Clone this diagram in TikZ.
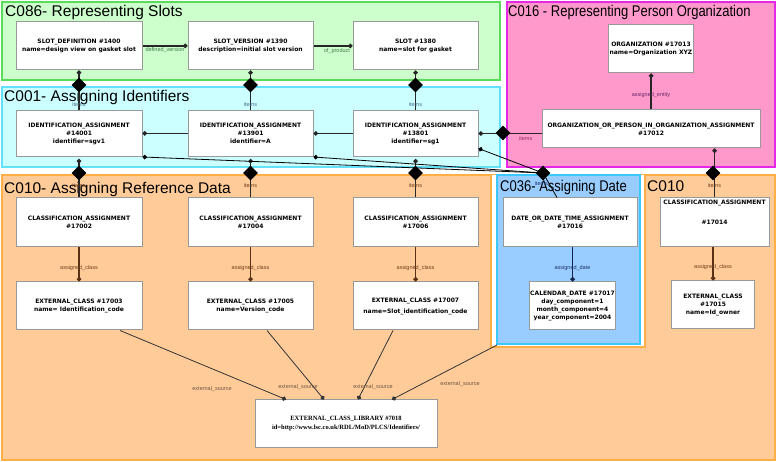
\documentclass[tikz,border=0pt]{standalone}
\usepackage{fontspec}
\setmainfont{Liberation Sans}
\newfontfamily\boxfont{DejaVu Sans}
\newfontfamily\libfont{Liberation Serif}
\newfontfamily\narrowfont[FakeStretch=0.84]{Liberation Sans}
\usetikzlibrary{arrows.meta,shapes.geometric}
\definecolor{slotfill}{RGB}{204,255,204}
\definecolor{slotline}{RGB}{90,220,90}
\definecolor{idfill}{RGB}{204,255,255}
\definecolor{idline}{RGB}{100,225,250}
\definecolor{orgfill}{RGB}{255,153,204}
\definecolor{orgline}{RGB}{230,40,230}
\definecolor{refill}{RGB}{255,204,153}
\definecolor{refline}{RGB}{255,175,70}
\definecolor{datefill}{RGB}{153,204,255}
\definecolor{dateline}{RGB}{60,200,250}
\definecolor{lblgreen}{RGB}{60,120,60}
\definecolor{lblblue}{RGB}{70,105,140}
\definecolor{lblbrown}{RGB}{110,60,25}
\definecolor{lblpurple}{RGB}{100,40,100}
\definecolor{lblred}{RGB}{150,40,90}
\definecolor{lblnavy}{RGB}{30,50,110}
\definecolor{lblsource}{RGB}{110,85,65}
\tikzset{
  area/.style={line width=1.5pt},
  title/.style={anchor=base west, inner sep=0pt, font=\fontsize{15.5}{16}\selectfont},
  entity/.style={draw=black!40, line width=1pt, fill=white, inner sep=1pt, align=center,
    font=\boxfont\bfseries\fontsize{6}{8}\selectfont,
    path picture={\fill ([shift={(-1.5pt,1.5pt)}]path picture bounding box.south east)
      -- ++(-5pt,0pt) -- ++(5pt,5pt) -- cycle;}},
  dmd/.style={diamond, fill=black, minimum width=15pt, minimum height=15pt, inner sep=0pt},
  conn/.style={line width=1.2pt, draw=black!85},
  thin/.style={line width=0.8pt, draw=black},
  enddot/.style={-{Circle[length=4.5pt]}},
  startdot/.style={{Circle[length=4.5pt]}-},
  lbl/.style={inner sep=1pt, font=\fontsize{5.5}{6}\selectfont}
}
\begin{document}
\begin{tikzpicture}[x=1pt,y=-1pt]
  \useasboundingbox (0,0) rectangle (777,462);
  \draw[area, draw=slotline, fill=slotfill] (2,2) rectangle (500,80);
  \draw[area, draw=idline, fill=idfill] (2,87) rectangle (500,167);
  \draw[area, draw=orgline, fill=orgfill] (507,2) rectangle (775,167);
  \draw[area, draw=refline, fill=refill] (2,175) rectangle (775,460);
  \fill[white] (491,175) rectangle (645,347);
  \draw[area, draw=refline] (491,175) -- (491,347) -- (645,347) -- (645,175);
  \draw[area, draw=dateline, fill=datefill] (497,175) rectangle (640,344);

  \node[title] (t086) at (5,17) {C086- Representing Slots};
  \node[title] (t001) at (4,102) {C001- Assigning Identifiers};
  \node[title] (t010) at (4,194) {C010- Assigning Reference Data};
  \node[title, font=\narrowfont\fontsize{15.5}{16}\selectfont] (t016) at (508,17) {C016 - Representing Person Organization};
  \node[title, font=\narrowfont\fontsize{15.5}{16}\selectfont] (t036) at (500,192) {C036- Assigning Date};
  \node[title] (t010b) at (647,192) {C010};

  \node[entity, minimum width=126pt, minimum height=48pt] (sdef) at (79,46) {SLOT\_DEFINITION \#1400\\name=design view on gasket slot};
  \node[entity, minimum width=125pt, minimum height=48pt] (sver) at (250.5,46) {SLOT\_VERSION \#1390\\description=initial slot version};
  \node[entity, minimum width=125pt, minimum height=48pt] (slot) at (415.5,46) {SLOT \#1380\\name=slot for gasket};
  \node[entity, minimum width=82pt, minimum height=48pt] (org) at (651,49) {ORGANIZATION \#17013\\name=Organization XYZ};
  \node[entity, minimum width=218pt, minimum height=38pt] (oop) at (651,129) {ORGANIZATION\_OR\_PERSON\_IN\_ORGANIZATION\_ASSIGNMENT\\\#17012};
  \node[entity, minimum width=126pt, minimum height=46pt] (id1) at (79,133.5) {IDENTIFICATION\_ASSIGNMENT\\\#14001\\identifier=sgv1};
  \node[entity, minimum width=125pt, minimum height=46pt] (id2) at (250.5,133.5) {IDENTIFICATION\_ASSIGNMENT\\\#13901\\identifier=A};
  \node[entity, minimum width=125pt, minimum height=46pt] (id3) at (415.5,133.5) {IDENTIFICATION\_ASSIGNMENT\\\#13801\\identifier=sg1};
  \node[entity, minimum width=126pt, minimum height=49pt] (ca1) at (79,222.5) {CLASSIFICATION\_ASSIGNMENT\\\#17002};
  \node[entity, minimum width=125pt, minimum height=49pt] (ca2) at (250.5,222.5) {CLASSIFICATION\_ASSIGNMENT\\\#17004};
  \node[entity, minimum width=125pt, minimum height=49pt] (ca3) at (415.5,222.5) {CLASSIFICATION\_ASSIGNMENT\\\#17006};
  \node[entity, minimum width=109pt, minimum height=49pt,
    label={[anchor=north, inner sep=2pt, font=\boxfont\bfseries\fontsize{6}{8}\selectfont]north:CLASSIFICATION\_ASSIGNMENT}] (ca4) at (714.5,222.5) {\#17014};
  \node[entity, minimum width=126pt, minimum height=48pt] (ec1) at (79,306) {EXTERNAL\_CLASS \#17003\\name= Identification\_code};
  \node[entity, minimum width=125pt, minimum height=48pt] (ec2) at (250.5,306) {EXTERNAL\_CLASS \#17005\\name=Version\_code};
  \node[entity, minimum width=125pt, minimum height=48pt] (ec3) at (415.5,306) {EXTERNAL\_CLASS \#17007\\[3pt]name=Slot\_identification\_code};
  \node[entity, minimum width=134pt, minimum height=49pt] (dta) at (570,222.5) {DATE\_OR\_DATE\_TIME\_ASSIGNMENT\\\#17016};
  \node[entity, minimum width=83pt, minimum height=48pt] (cal) at (572.5,306) {CALENDAR\_DATE \#17017\\day\_component=1\\month\_component=4\\year\_component=2004};
  \node[entity, minimum width=83pt, minimum height=48pt] (ec4) at (713,305) {EXTERNAL\_CLASS\\\#17015\\name=Id\_owner};
  \node[entity, minimum width=182pt, minimum height=47pt, font=\libfont\bfseries\fontsize{6.5}{9}\selectfont] (lib) at (346,423.5) {EXTERNAL\_CLASS\_LIBRARY \#7018\\id=http://www.lsc.co.uk/RDL/MoD/PLCS/Identifiers/};
  \coordinate (c036) at (497,345);

  \draw[conn, enddot] (sdef) -- (sver) node[lbl, text=lblgreen, midway, below=0pt] {defined\_version};
  \draw[conn, enddot] (sver) -- (slot) node[lbl, text=lblgreen, pos=0.6, below=1pt] {of\_product};
  \draw[conn, startdot] (sdef.south) -- (id1.north) node[lbl, text=lblblue, pos=0.85] {items};
  \draw[conn, startdot] (sver.south) -- (id2.north) node[lbl, text=lblblue, pos=0.85] {items};
  \draw[conn, startdot] (slot.south) -- (id3.north) node[lbl, text=lblblue, pos=0.85] {items};
  \draw[conn, startdot] (id1) -- (id2);
  \draw[conn, startdot] (id2) -- (id3);
  \draw[conn, startdot] (id3.east) -- (id3.east -| oop.west) node[lbl, text=lblred, pos=0.75, below=1pt] {items};
  \draw[conn, enddot] (oop) -- (org) node[lbl, text=lblpurple, pos=0.4] {assigned\_entity};
  \draw[conn, startdot] (ca4.north |- oop.south) -- (ca4.north) node[lbl, text=lblbrown, pos=0.75] {items};
  \draw[conn, startdot] ([yshift=-2pt]id1.south) -- (ca1.north) node[lbl, text=lblbrown, pos=0.7] {items};
  \draw[conn, startdot] ([yshift=-2pt]id2.south) -- (ca2.north) node[lbl, text=lblbrown, pos=0.7] {items};
  \draw[conn, startdot] ([yshift=-2pt]id3.south) -- (ca3.north) node[lbl, text=lblbrown, pos=0.7] {items};
  \node[dmd] (d1) at (79,85) {};
  \node[dmd] (d2) at (250.5,85) {};
  \node[dmd] (d3) at (415.5,85) {};
  \node[dmd] (d4) at (503,133) {};
  \node[dmd] (d5) at (79,173) {};
  \node[dmd] (d6) at (250.5,173) {};
  \node[dmd] (d7) at (415.5,173) {};
  \node[dmd] (d8) at (713,173) {};
  \node[dmd] (dd) at (543,173) {};
  \draw[thin, startdot] (id1.south east) -- (dd.center);
  \draw[thin, startdot] (id2.south east) -- (dd.center);
  \draw[thin, startdot] ([yshift=-15pt]id3.east) -- (dd.center);
  \draw[thin] (dd.center) -- ([xshift=-13pt]dta.north) node[lbl, text=lblnavy, pos=0.45, left=0pt] {items};

  \draw[conn, draw=lblbrown!80!black, enddot] (ca1) -- (ec1) node[lbl, text=lblbrown, pos=0.6] {assigned\_class};
  \draw[conn, draw=lblbrown!80!black, enddot] (ca2) -- (ec2) node[lbl, text=lblbrown, pos=0.6] {assigned\_class};
  \draw[conn, draw=lblbrown!80!black, enddot] (ca3) -- (ec3) node[lbl, text=lblbrown, pos=0.6] {assigned\_class};
  \draw[conn, draw=lblnavy!70!black, enddot] (dta.south -| cal.north) -- (cal.north) node[lbl, text=lblnavy, pos=0.6] {assigned\_date};
  \draw[conn, draw=lblbrown!80!black, enddot] (ca4.south -| ec4.north) -- (ec4.north) node[lbl, text=lblbrown, pos=0.6] {assigned\_class};

  \draw[thin, draw=black!80, enddot] ([xshift=41pt]ec1.south) -- ([xshift=-60pt]lib.north) node[lbl, text=lblsource] at (212,389) {external\_source};
  \draw[thin, draw=black!80, enddot] ([xshift=16.5pt]ec2.south) -- ([xshift=-22pt]lib.north) node[lbl, text=lblsource] at (298,387) {external\_source};
  \draw[thin, draw=black!80, enddot] ([xshift=-22.5pt]ec3.south) -- ([xshift=12pt]lib.north) node[lbl, text=lblsource] at (373,387) {external\_source};
  \draw[thin, draw=black!80, enddot] (c036) -- ([xshift=46pt]lib.north) node[lbl, text=lblsource] at (460,384) {external\_source};
\end{tikzpicture}
\end{document}
